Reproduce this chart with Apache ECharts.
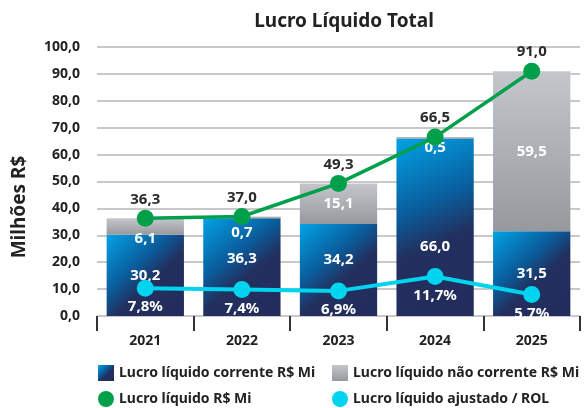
<!DOCTYPE html>
<html>
<head>
<meta charset="utf-8">
<script src="https://cdn.jsdelivr.net/npm/echarts@6/dist/echarts.min.js"></script>
<style>
  html, body { margin: 0; padding: 0; background: #fff; }
  #chart { width: 584px; height: 408px; }
</style>
</head>
<body>
<div id="chart"></div>
<script>
const myChart = echarts.init(document.getElementById('chart'))

// dados (R$ milhões)
const anos = ['2021', '2022', '2023', '2024', '2025']
const corrente = [30.2, 36.3, 34.2, 66.0, 31.5]
const naoCorrente = [6.1, 0.7, 15.1, 0.5, 59.5]
const lucroTotal = [36.3, 37.0, 49.3, 66.5, 91.0]
const ajustadoRol = [7.8, 7.4, 6.9, 11.7, 5.7]

const fmt = (v) => v.toFixed(1).replace('.', ',')
const font = 'Noto Sans'

const azul = new echarts.graphic.LinearGradient(0, 0, 1, 1, [
  { offset: 0, color: '#02a3e6' },
  { offset: 0.38, color: '#0a5c9b' },
  { offset: 0.58, color: '#22305f' },
  { offset: 1, color: '#232c5c' }
])
const cinza = new echarts.graphic.LinearGradient(0, 0, 0, 1, [
  { offset: 0, color: '#c3c7cc' },
  { offset: 1, color: '#96989c' }
])

// ajustes de posição dos rótulos (como no original)
const offCorrente = [[0, 0], [0, -8], [0, -10], [0, 20], [0, 0]]
const offNaoCorrente = [[0, 12], [0, 15], [0, 0], [0, 10], [0, 0]]

// legenda: 2 colunas x 2 linhas
const legendItem = (name, icon, left, top) => ({
  left: left,
  top: top,
  padding: 0,
  itemWidth: 16,
  itemHeight: 16,
  itemGap: 0,
  textStyle: { fontSize: 14, fontWeight: 'bold', color: '#222', fontFamily: font },
  data: [{ name: name, icon: icon }]
})

const option = {
  textStyle: { fontFamily: font },
  title: {
    text: 'Lucro Líquido Total',
    left: 339,
    textAlign: 'center',
    top: 7,
    textStyle: { fontSize: 19, fontWeight: 'bold', color: '#222', fontFamily: font }
  },
  graphic: [{
    type: 'text',
    x: 20,
    y: 207,
    rotation: Math.PI / 2,
    style: {
      text: 'Milhões R$',
      fontSize: 19,
      fontWeight: 'bold',
      fontFamily: font,
      fill: '#222',
      align: 'center',
      verticalAlign: 'middle'
    }
  }],
  legend: [
    legendItem('Lucro líquido corrente R$ Mi', 'rect', 98, 365),
    legendItem('Lucro líquido não corrente R$ Mi', 'rect', 332, 365),
    legendItem('Lucro líquido R$ Mi', 'circle', 98, 391),
    legendItem('Lucro líquido ajustado / ROL', 'circle', 332, 391)
  ],
  grid: {
    left: 97,
    right: 4,
    top: 47,
    bottom: 92
  },
  xAxis: {
    type: 'category',
    data: anos,
    axisLine: { show: false },
    axisTick: {
      show: true,
      alignWithLabel: false,
      length: 15,
      lineStyle: { color: '#333', width: 2 }
    },
    axisLabel: {
      margin: 18,
      fontSize: 14,
      fontWeight: 'bold',
      color: '#222'
    }
  },
  yAxis: [
    {
      type: 'value',
      min: 0,
      max: 100,
      interval: 10,
      axisLine: { show: false },
      axisTick: { show: false },
      axisLabel: {
        margin: 17,
        fontSize: 14,
        fontWeight: 'bold',
        color: '#222',
        formatter: (v) => fmt(v)
      },
      splitLine: { lineStyle: { color: '#c8c8c8', width: 2 } }
    },
    {
      // eixo oculto para o % ajustado / ROL
      type: 'value',
      show: false,
      min: -1.5,
      max: 88.5,
      splitLine: { show: false }
    }
  ],
  series: [
    {
      name: 'Lucro líquido corrente R$ Mi',
      type: 'bar',
      stack: 'total',
      barWidth: '80%',
      itemStyle: { color: azul },
      label: {
        show: true,
        position: 'inside',
        fontSize: 15,
        fontWeight: 'bold',
        color: '#fff',
        formatter: (p) => fmt(p.value)
      },
      data: corrente.map((v, i) => ({ value: v, label: { offset: offCorrente[i] } }))
    },
    {
      name: 'Lucro líquido não corrente R$ Mi',
      type: 'bar',
      stack: 'total',
      itemStyle: { color: cinza },
      label: {
        show: true,
        position: 'inside',
        fontSize: 15,
        fontWeight: 'bold',
        color: '#fff',
        formatter: (p) => fmt(p.value)
      },
      data: naoCorrente.map((v, i) => ({ value: v, label: { offset: offNaoCorrente[i] } }))
    },
    {
      name: 'Lucro líquido R$ Mi',
      type: 'line',
      symbol: 'circle',
      symbolSize: 17,
      itemStyle: { color: '#00a04b' },
      lineStyle: { width: 3.5, color: '#00a04b' },
      label: {
        show: true,
        position: 'top',
        distance: 3,
        fontSize: 15,
        fontWeight: 'bold',
        color: '#2a2a2a',
        formatter: (p) => fmt(p.value)
      },
      z: 3,
      data: lucroTotal
    },
    {
      name: 'Lucro líquido ajustado / ROL',
      type: 'line',
      yAxisIndex: 1,
      symbol: 'circle',
      symbolSize: 17,
      itemStyle: { color: '#00d4ef' },
      lineStyle: { width: 4, color: '#00d4ef' },
      label: {
        show: true,
        position: 'bottom',
        distance: 3,
        fontSize: 15,
        fontWeight: 'bold',
        color: '#fff',
        formatter: (p) => fmt(p.value) + '%'
      },
      z: 4,
      data: ajustadoRol
    }
  ]
}

myChart.setOption(option)
</script>
</body>
</html>
